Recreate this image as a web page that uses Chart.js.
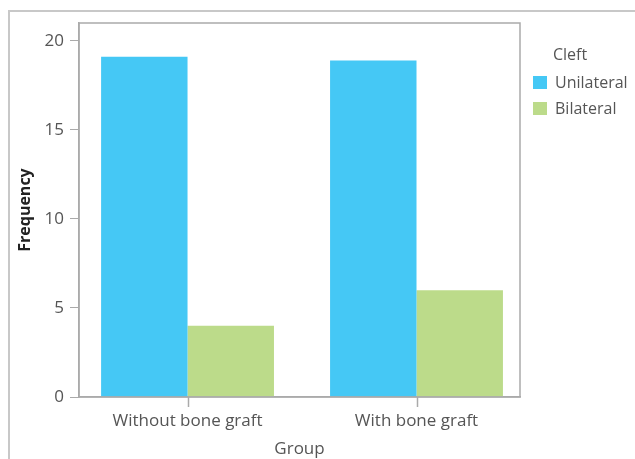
<!DOCTYPE html>
<html>
<head>
<meta charset="utf-8">
<script src="https://cdn.jsdelivr.net/npm/chart.js@4"></script>
<style>
  body { margin: 0; background: #fff; }
  #wrap { position: relative; width: 635px; height: 459px; }
  #frame { position: absolute; left: 8px; top: 10px; right: -5px; bottom: -5px;
           border-top: 2px solid #c8c8c8; border-left: 2px solid #c8c8c8; }
  #legend { position: absolute; left: 533px; top: 43px; font-family: "Open Sans", sans-serif;
            font-size: 16px; color: #555; }
  #legend .title { margin-left: 20px; height: 26px; }
  #legend .item { height: 26px; display: flex; align-items: center; }
  #legend .sw { width: 14px; height: 13px; margin-right: 8px; }
</style>
</head>
<body>
<div id="wrap">
  <div id="frame"></div>
  <canvas id="barChart" width="635" height="459"></canvas>
  <div id="legend"></div>
</div>
<script>
const groups = ["Without bone graft", "With bone graft"];
const unilateral = [19.1, 18.9];
const bilateral = [4, 6];
const seriesNames = ["Unilateral", "Bilateral"];
const seriesColors = ["#45c8f5", "#bcdb8a"];
const yTicks = [0, 5, 10, 15, 20];

// outline round the plot area + little tick marks under each group
const plotBox = {
  id: "plotBox",
  afterDraw(chart) {
    const a = chart.chartArea;
    const c = chart.ctx;
    const xs = chart.scales.x;
    c.save();
    c.strokeStyle = "#aaaaaa";
    c.lineWidth = 1.5;
    c.strokeRect(a.left, a.top, a.right - a.left, a.bottom - a.top);
    xs.ticks.forEach(function (t) {
      const px = Math.round(xs.getPixelForValue(t.value)) + 0.5;
      c.beginPath();
      c.moveTo(px, a.bottom);
      c.lineTo(px, a.bottom + 10);
      c.stroke();
    });
    c.restore();
  }
};

Chart.defaults.font.family = "'Open Sans', sans-serif";
Chart.defaults.color = "#555";

function toPoints(values) {
  return values.map((v, i) => ({ x: i, y: v }));
}

var ctx = document.getElementById("barChart").getContext("2d");
var barChart = new Chart(ctx, {
  type: "bar",
  data: {
    datasets: [
      { label: seriesNames[0], data: toPoints(unilateral), backgroundColor: seriesColors[0] },
      { label: seriesNames[1], data: toPoints(bilateral), backgroundColor: seriesColors[1] },
    ],
  },
  options: {
    responsive: false,
    animation: false,
    layout: { padding: { top: 23, right: 115, left: 0, bottom: 0 } },
    datasets: { bar: { categoryPercentage: 0.755, barPercentage: 1 } },
    scales: {
      x: {
        type: "linear",
        offset: false,
        // the groups sit a little right of an even split
        min: -0.474,
        max: 1.452,
        grid: { display: false },
        border: { color: "#aaa", width: 1.5 },
        ticks: {
          autoSkip: false,
          font: { size: 17 },
          color: "#555",
          padding: 6,
          callback: (v) => groups[v],
        },
        afterBuildTicks(scale) { scale.ticks = groups.map((g, i) => ({ value: i })); },
        title: { display: true, text: "Group", font: { size: 17 }, color: "#555", padding: { top: 4, bottom: 0 } },
        afterFit(scale) { scale.height = 62; },
      },
      y: {
        min: 0,
        max: 21,
        ticks: { font: { size: 17 }, color: "#555", padding: 6 },
        afterBuildTicks(scale) { scale.ticks = yTicks.map(v => ({ value: v })); },
        grid: { drawOnChartArea: false, tickLength: 9, color: "#aaa" },
        border: { color: "#aaa", width: 1.5 },
        title: { display: true, text: "Frequency", font: { size: 16, weight: "bold" }, color: "#222", padding: { top: 16 } },
        afterFit(scale) { scale.width = 79; },
      },
    },
    plugins: {
      legend: { display: false },
      tooltip: { enabled: false },
    },
  },
  plugins: [plotBox],
});

// legend
var legend = document.getElementById("legend");
var html = '<div class="title">Cleft</div>';
seriesNames.forEach(function (name, i) {
  html += '<div class="item"><span class="sw" style="background:' + seriesColors[i] + '"></span>' + name + '</div>';
});
legend.innerHTML = html;
</script>
</body>
</html>
